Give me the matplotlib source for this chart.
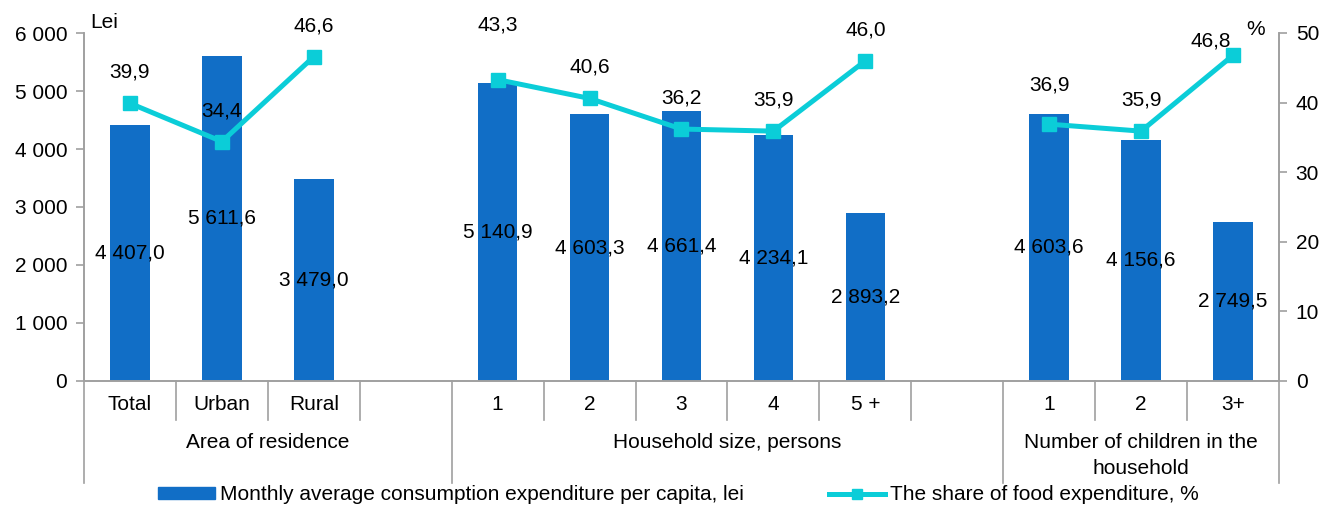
import numpy as np
import matplotlib.pyplot as plt
from matplotlib.transforms import blended_transform_factory
from matplotlib.patches import Patch
from matplotlib.lines import Line2D

plt.rcParams['font.family'] = ['Liberation Sans', 'DejaVu Sans']
plt.rcParams['font.size'] = 15

# data
categories = ["Total", "Urban", "Rural", "",
              "1", "2", "3", "4", "5 +", "",
              "1", "2", "3+"]
groups = ["Area of residence", "Household size, persons",
          "Number of children in the\nhousehold"]
group_sizes = [4, 6, 3]
expenditure = [4407.0, 5611.6, 3479.0, np.nan,
               5140.9, 4603.3, 4661.4, 4234.1, 2893.2, np.nan,
               4603.6, 4156.6, 2749.5]
food_share = [39.9, 34.4, 46.6, np.nan,
              43.3, 40.6, 36.2, 35.9, 46.0, np.nan,
              36.9, 35.9, 46.8]

bar_color = '#116EC6'
line_color = '#0BCDD8'
gray = '#A0A0A0'

# a few share labels were moved by hand in the original (pixels)
label_nudge = {4: (0, 55), 10: (0, 39), 12: (-22, 14)}


def fmt(v):
    return f"{v:,.1f}".replace(',', ' ').replace('.', ',')


x = np.arange(len(categories))

fig = plt.figure(figsize=(13.22, 5.07), dpi=100)
ax = fig.add_axes([84/1322, 126/507, 1195/1322, 348/507])
ax2 = ax.twinx()

ax.bar(x, expenditure, width=0.43, color=bar_color, zorder=2)
ax2.plot(x, food_share, color=line_color, lw=3.6, marker='s', ms=9.5,
         solid_joinstyle='miter', zorder=3)

ax.set_xlim(-0.5, len(categories) - 0.5)
ax.set_ylim(0, 6000)
ax2.set_ylim(0, 50)

ax.set_yticks(range(0, 6001, 1000))
ax.set_yticklabels([f"{v:,}".replace(',', ' ') for v in range(0, 6001, 1000)])
ax2.set_yticks(range(0, 51, 10))
ax.set_xticks([])

for a in (ax, ax2):
    a.spines['top'].set_visible(False)
    for s in ('left', 'right', 'bottom'):
        a.spines[s].set_color(gray)
        a.spines[s].set_linewidth(1.2)
    a.tick_params(axis='y', length=6, width=1.2, color=gray, pad=6,
                  labelcolor='black')

# value labels
for xi, v in zip(x, expenditure):
    if np.isnan(v):
        continue
    ax.text(xi, v / 2, fmt(v), ha='center', va='center', zorder=4)

for i, (xi, v) in enumerate(zip(x, food_share)):
    if np.isnan(v):
        continue
    dx, dy = label_nudge.get(i, (0, 31))
    ax2.annotate(fmt(v), (xi, v), xytext=(dx, dy), textcoords='offset pixels',
                 ha='center', va='center')

# category and group axis
trans = blended_transform_factory(ax.transData, ax.transAxes)
short, long_ = -39 / 348, -102 / 348
group_edges = np.cumsum([0] + group_sizes)
for k in range(len(categories) + 1):
    depth = long_ if k in group_edges else short
    ax.plot([k - 0.5, k - 0.5], [0, depth], transform=trans, color=gray,
            lw=1.2, clip_on=False)

for xi, lab in zip(x, categories):
    ax.text(xi, -24 / 348, lab, transform=trans, ha='center', va='center')

for g, lab in enumerate(groups):
    mid = (group_edges[g] + group_edges[g + 1]) / 2 - 0.5
    ax.text(mid, -52 / 348, lab, transform=trans, ha='center', va='top',
            linespacing=1.45)

# axis units
ax.text(6 / 1195, 1.03, "Lei", transform=ax.transAxes, ha='left', va='center')
ax.text(1 - 14 / 1195, 1.01, "%", transform=ax.transAxes, ha='right', va='center')

# legend
handles = [Patch(color=bar_color),
           Line2D([], [], color=line_color, lw=3.6, marker='s', ms=7)]
names = ["Monthly average consumption expenditure per capita, lei",
         "The share of food expenditure, %"]
fig.legend(handles, names, loc='center left', bbox_to_anchor=(148 / 1322, 12 / 507),
           ncol=2, frameon=False, handlelength=2.7, handletextpad=0.24,
           columnspacing=4.1, borderpad=0, handleheight=0.55, numpoints=1)

fig.savefig('out.png', dpi=100)
